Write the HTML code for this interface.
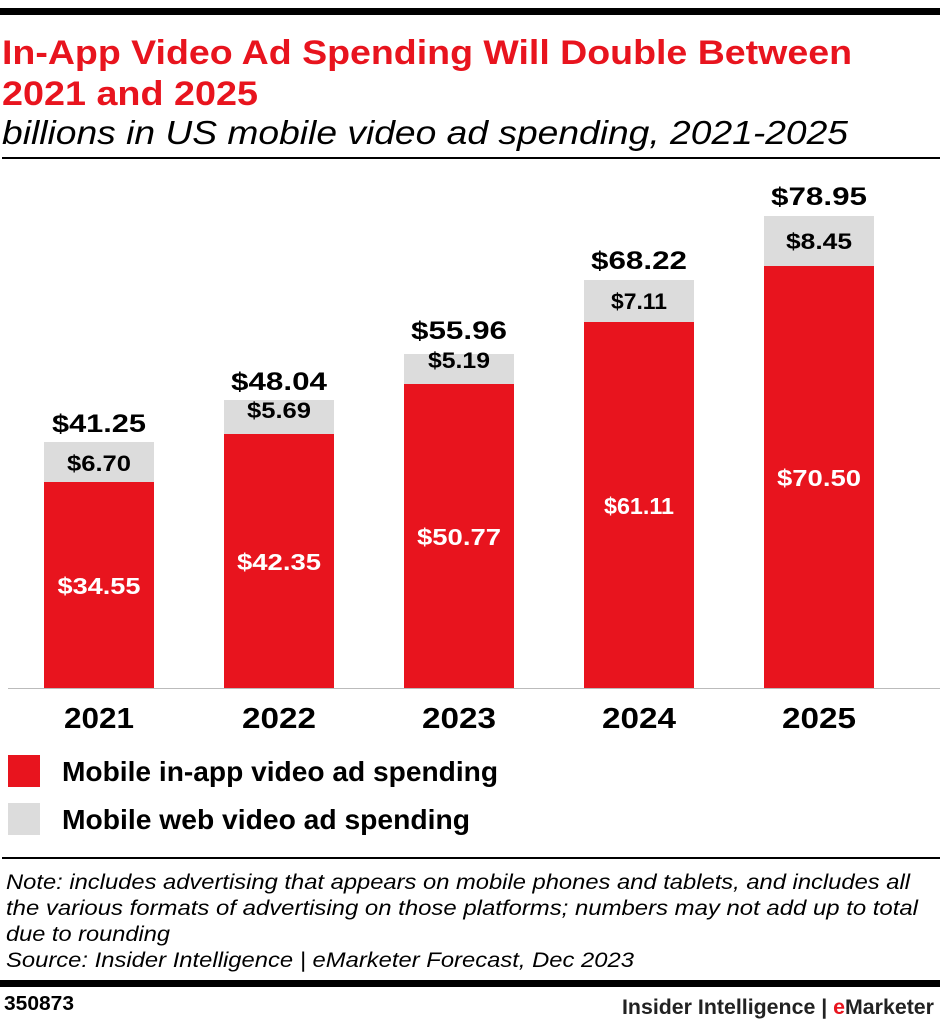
<!DOCTYPE html>
<html><head><style>
body{margin:0;background:#fff;}
svg{display:block;font-family:"Liberation Sans",sans-serif;}
</style></head><body>
<svg width="940" height="1026" xmlns="http://www.w3.org/2000/svg">
<rect x="0" y="8" width="940" height="7" fill="#000"/>
<text x="2" y="64" font-size="34" font-weight="bold" fill="#e8141e" textLength="850" lengthAdjust="spacingAndGlyphs">In-App Video Ad Spending Will Double Between</text>
<text x="2" y="105" font-size="34" font-weight="bold" fill="#e8141e" textLength="256" lengthAdjust="spacingAndGlyphs">2021 and 2025</text>
<text x="2" y="144" font-size="33" font-style="italic" fill="#000" textLength="846" lengthAdjust="spacingAndGlyphs">billions in US mobile video ad spending, 2021-2025</text>
<rect x="2" y="157" width="938" height="2" fill="#000"/>
<g font-weight="bold" text-anchor="middle">
<rect x="44" y="442" width="110" height="40" fill="#dcdcdc"/><rect x="44" y="482" width="110" height="206" fill="#e8141e"/>
<text x="99" y="432" font-size="25" textLength="94" lengthAdjust="spacingAndGlyphs">$41.25</text><text x="99" y="471" font-size="22" textLength="64" lengthAdjust="spacingAndGlyphs">$6.70</text><text x="99" y="594" font-size="23" fill="#fff" textLength="83" lengthAdjust="spacingAndGlyphs">$34.55</text>
<rect x="224" y="400" width="110" height="34" fill="#dcdcdc"/><rect x="224" y="434" width="110" height="254" fill="#e8141e"/>
<text x="279" y="390" font-size="25" textLength="96" lengthAdjust="spacingAndGlyphs">$48.04</text><text x="279" y="418" font-size="22" textLength="64" lengthAdjust="spacingAndGlyphs">$5.69</text><text x="279" y="570" font-size="23" fill="#fff" textLength="84" lengthAdjust="spacingAndGlyphs">$42.35</text>
<rect x="404" y="354" width="110" height="30" fill="#dcdcdc"/><rect x="404" y="384" width="110" height="304" fill="#e8141e"/>
<text x="459" y="339" font-size="25" textLength="96" lengthAdjust="spacingAndGlyphs">$55.96</text><text x="459" y="368" font-size="22" textLength="62" lengthAdjust="spacingAndGlyphs">$5.19</text><text x="459" y="545" font-size="23" fill="#fff" textLength="84" lengthAdjust="spacingAndGlyphs">$50.77</text>
<rect x="584" y="280" width="110" height="42" fill="#dcdcdc"/><rect x="584" y="322" width="110" height="366" fill="#e8141e"/>
<text x="639" y="269" font-size="25" textLength="96" lengthAdjust="spacingAndGlyphs">$68.22</text><text x="639" y="309" font-size="22" textLength="56" lengthAdjust="spacingAndGlyphs">$7.11</text><text x="639" y="514" font-size="23" fill="#fff" textLength="70" lengthAdjust="spacingAndGlyphs">$61.11</text>
<rect x="764" y="216" width="110" height="50" fill="#dcdcdc"/><rect x="764" y="266" width="110" height="422" fill="#e8141e"/>
<text x="819" y="205" font-size="25" textLength="96" lengthAdjust="spacingAndGlyphs">$78.95</text><text x="819" y="249" font-size="22" textLength="66" lengthAdjust="spacingAndGlyphs">$8.45</text><text x="819" y="486" font-size="23" fill="#fff" textLength="84" lengthAdjust="spacingAndGlyphs">$70.50</text>
<text x="99" y="728" font-size="29" textLength="70" lengthAdjust="spacingAndGlyphs">2021</text><text x="279" y="728" font-size="29" textLength="74" lengthAdjust="spacingAndGlyphs">2022</text><text x="459" y="728" font-size="29" textLength="74" lengthAdjust="spacingAndGlyphs">2023</text><text x="639" y="728" font-size="29" textLength="74" lengthAdjust="spacingAndGlyphs">2024</text><text x="819" y="728" font-size="29" textLength="74" lengthAdjust="spacingAndGlyphs">2025</text>
</g>
<rect x="8" y="688" width="932" height="1" fill="#bbb"/>
<rect x="8" y="755" width="32" height="32" fill="#e8141e"/>
<rect x="8" y="803" width="32" height="32" fill="#dcdcdc"/>
<text x="62" y="781" font-size="28" font-weight="bold" textLength="436" lengthAdjust="spacingAndGlyphs">Mobile in-app video ad spending</text>
<text x="62" y="829" font-size="28" font-weight="bold" textLength="408" lengthAdjust="spacingAndGlyphs">Mobile web video ad spending</text>
<rect x="2" y="857" width="938" height="2" fill="#000"/>
<g font-size="21" font-style="italic">
<text x="6" y="889" textLength="904" lengthAdjust="spacingAndGlyphs">Note: includes advertising that appears on mobile phones and tablets, and includes all</text>
<text x="6" y="915" textLength="912" lengthAdjust="spacingAndGlyphs">the various formats of advertising on those platforms; numbers may not add up to total</text>
<text x="6" y="941" textLength="164" lengthAdjust="spacingAndGlyphs">due to rounding</text>
<text x="6" y="967" textLength="628" lengthAdjust="spacingAndGlyphs">Source: Insider Intelligence | eMarketer Forecast, Dec 2023</text>
</g>
<rect x="0" y="980" width="940" height="7" fill="#000"/>
<text x="4" y="1010" font-size="20" font-weight="bold" textLength="70" lengthAdjust="spacingAndGlyphs">350873</text>
<text x="622" y="1014" font-size="21" font-weight="bold" fill="#222" textLength="312" lengthAdjust="spacingAndGlyphs">Insider Intelligence | <tspan fill="#e8141e">e</tspan>Marketer</text>
</svg>
</body></html>
